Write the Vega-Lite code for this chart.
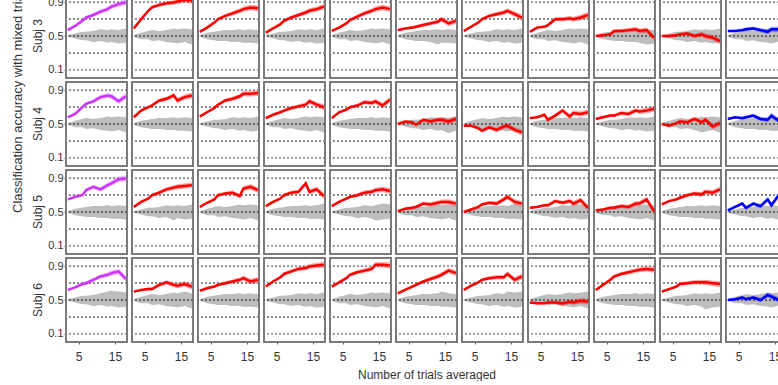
{
"$schema": "https://vega.github.io/schema/vega-lite/v6.json",
"padding": {"left": 11, "top": -16, "right": 0, "bottom": 0},
"background": "white",
"title": {"text": "Classification accuracy with mixed trials", "orient": "left", "anchor": "start", "fontSize": 13, "font": "Liberation Sans", "fontWeight": "normal", "color": "#333", "offset": 7, "dx": 168},
"data": {"values": [
{"s":"Subj 3","c":1,"x":2,"m":0.57,"e":0.012,"l":0.49,"h":0.51},{"s":"Subj 3","c":1,"x":4,"m":0.62,"e":0.015,"l":0.47,"h":0.53},{"s":"Subj 3","c":1,"x":6,"m":0.68,"e":0.018,"l":0.45,"h":0.55},{"s":"Subj 3","c":1,"x":7,"m":0.72,"e":0.02,"l":0.45,"h":0.55},{"s":"Subj 3","c":1,"x":9,"m":0.75,"e":0.022,"l":0.43,"h":0.56},{"s":"Subj 3","c":1,"x":11,"m":0.79,"e":0.025,"l":0.44,"h":0.58},{"s":"Subj 3","c":1,"x":13,"m":0.82,"e":0.027,"l":0.42,"h":0.57},{"s":"Subj 3","c":1,"x":14,"m":0.85,"e":0.03,"l":0.43,"h":0.58},{"s":"Subj 3","c":1,"x":16,"m":0.88,"e":0.032,"l":0.41,"h":0.57},{"s":"Subj 3","c":1,"x":18,"m":0.9,"e":0.035,"l":0.42,"h":0.59},
{"s":"Subj 3","c":2,"x":2,"m":0.59,"e":0.012,"l":0.49,"h":0.51},{"s":"Subj 3","c":2,"x":4,"m":0.7,"e":0.015,"l":0.46,"h":0.54},{"s":"Subj 3","c":2,"x":6,"m":0.8,"e":0.018,"l":0.46,"h":0.56},{"s":"Subj 3","c":2,"x":7,"m":0.84,"e":0.02,"l":0.44,"h":0.57},{"s":"Subj 3","c":2,"x":9,"m":0.87,"e":0.022,"l":0.45,"h":0.56},{"s":"Subj 3","c":2,"x":11,"m":0.89,"e":0.025,"l":0.43,"h":0.57},{"s":"Subj 3","c":2,"x":13,"m":0.9,"e":0.027,"l":0.42,"h":0.59},{"s":"Subj 3","c":2,"x":14,"m":0.91,"e":0.03,"l":0.41,"h":0.58},{"s":"Subj 3","c":2,"x":16,"m":0.93,"e":0.032,"l":0.43,"h":0.59},{"s":"Subj 3","c":2,"x":18,"m":0.92,"e":0.035,"l":0.4,"h":0.58},
{"s":"Subj 3","c":3,"x":2,"m":0.55,"e":0.012,"l":0.49,"h":0.51},{"s":"Subj 3","c":3,"x":4,"m":0.6,"e":0.015,"l":0.46,"h":0.54},{"s":"Subj 3","c":3,"x":6,"m":0.66,"e":0.018,"l":0.45,"h":0.55},{"s":"Subj 3","c":3,"x":7,"m":0.7,"e":0.02,"l":0.44,"h":0.56},{"s":"Subj 3","c":3,"x":9,"m":0.74,"e":0.022,"l":0.44,"h":0.57},{"s":"Subj 3","c":3,"x":11,"m":0.77,"e":0.025,"l":0.43,"h":0.57},{"s":"Subj 3","c":3,"x":13,"m":0.8,"e":0.027,"l":0.43,"h":0.58},{"s":"Subj 3","c":3,"x":14,"m":0.82,"e":0.03,"l":0.42,"h":0.57},{"s":"Subj 3","c":3,"x":16,"m":0.84,"e":0.032,"l":0.42,"h":0.58},{"s":"Subj 3","c":3,"x":18,"m":0.83,"e":0.035,"l":0.41,"h":0.57},
{"s":"Subj 3","c":4,"x":2,"m":0.54,"e":0.012,"l":0.49,"h":0.51},{"s":"Subj 3","c":4,"x":4,"m":0.59,"e":0.015,"l":0.47,"h":0.53},{"s":"Subj 3","c":4,"x":6,"m":0.64,"e":0.018,"l":0.45,"h":0.55},{"s":"Subj 3","c":4,"x":7,"m":0.68,"e":0.02,"l":0.45,"h":0.55},{"s":"Subj 3","c":4,"x":9,"m":0.72,"e":0.022,"l":0.43,"h":0.56},{"s":"Subj 3","c":4,"x":11,"m":0.75,"e":0.025,"l":0.44,"h":0.58},{"s":"Subj 3","c":4,"x":13,"m":0.78,"e":0.027,"l":0.42,"h":0.57},{"s":"Subj 3","c":4,"x":14,"m":0.8,"e":0.03,"l":0.43,"h":0.58},{"s":"Subj 3","c":4,"x":16,"m":0.82,"e":0.032,"l":0.41,"h":0.57},{"s":"Subj 3","c":4,"x":18,"m":0.85,"e":0.035,"l":0.42,"h":0.59},
{"s":"Subj 3","c":5,"x":2,"m":0.56,"e":0.012,"l":0.49,"h":0.51},{"s":"Subj 3","c":5,"x":4,"m":0.6,"e":0.015,"l":0.46,"h":0.54},{"s":"Subj 3","c":5,"x":6,"m":0.65,"e":0.018,"l":0.46,"h":0.56},{"s":"Subj 3","c":5,"x":7,"m":0.69,"e":0.02,"l":0.44,"h":0.57},{"s":"Subj 3","c":5,"x":9,"m":0.73,"e":0.022,"l":0.45,"h":0.56},{"s":"Subj 3","c":5,"x":11,"m":0.77,"e":0.025,"l":0.43,"h":0.57},{"s":"Subj 3","c":5,"x":13,"m":0.8,"e":0.027,"l":0.42,"h":0.59},{"s":"Subj 3","c":5,"x":14,"m":0.82,"e":0.03,"l":0.41,"h":0.58},{"s":"Subj 3","c":5,"x":16,"m":0.84,"e":0.032,"l":0.43,"h":0.59},{"s":"Subj 3","c":5,"x":18,"m":0.82,"e":0.035,"l":0.4,"h":0.58},
{"s":"Subj 3","c":6,"x":2,"m":0.57,"e":0.012,"l":0.49,"h":0.51},{"s":"Subj 3","c":6,"x":4,"m":0.59,"e":0.015,"l":0.46,"h":0.54},{"s":"Subj 3","c":6,"x":6,"m":0.6,"e":0.018,"l":0.45,"h":0.55},{"s":"Subj 3","c":6,"x":7,"m":0.61,"e":0.02,"l":0.44,"h":0.56},{"s":"Subj 3","c":6,"x":9,"m":0.63,"e":0.022,"l":0.44,"h":0.57},{"s":"Subj 3","c":6,"x":11,"m":0.65,"e":0.025,"l":0.43,"h":0.57},{"s":"Subj 3","c":6,"x":13,"m":0.67,"e":0.027,"l":0.4,"h":0.58},{"s":"Subj 3","c":6,"x":14,"m":0.7,"e":0.03,"l":0.42,"h":0.57},{"s":"Subj 3","c":6,"x":16,"m":0.65,"e":0.032,"l":0.42,"h":0.58},{"s":"Subj 3","c":6,"x":18,"m":0.68,"e":0.035,"l":0.41,"h":0.57},
{"s":"Subj 3","c":7,"x":2,"m":0.56,"e":0.012,"l":0.49,"h":0.51},{"s":"Subj 3","c":7,"x":4,"m":0.61,"e":0.015,"l":0.47,"h":0.53},{"s":"Subj 3","c":7,"x":6,"m":0.66,"e":0.018,"l":0.45,"h":0.55},{"s":"Subj 3","c":7,"x":7,"m":0.7,"e":0.02,"l":0.45,"h":0.55},{"s":"Subj 3","c":7,"x":9,"m":0.74,"e":0.022,"l":0.43,"h":0.56},{"s":"Subj 3","c":7,"x":11,"m":0.76,"e":0.025,"l":0.44,"h":0.58},{"s":"Subj 3","c":7,"x":13,"m":0.78,"e":0.027,"l":0.42,"h":0.57},{"s":"Subj 3","c":7,"x":14,"m":0.8,"e":0.03,"l":0.43,"h":0.58},{"s":"Subj 3","c":7,"x":16,"m":0.76,"e":0.032,"l":0.41,"h":0.57},{"s":"Subj 3","c":7,"x":18,"m":0.72,"e":0.035,"l":0.42,"h":0.59},
{"s":"Subj 3","c":8,"x":2,"m":0.55,"e":0.012,"l":0.49,"h":0.51},{"s":"Subj 3","c":8,"x":4,"m":0.6,"e":0.015,"l":0.46,"h":0.54},{"s":"Subj 3","c":8,"x":6,"m":0.61,"e":0.018,"l":0.46,"h":0.56},{"s":"Subj 3","c":8,"x":7,"m":0.63,"e":0.02,"l":0.44,"h":0.57},{"s":"Subj 3","c":8,"x":9,"m":0.7,"e":0.022,"l":0.45,"h":0.56},{"s":"Subj 3","c":8,"x":11,"m":0.7,"e":0.025,"l":0.43,"h":0.57},{"s":"Subj 3","c":8,"x":13,"m":0.71,"e":0.027,"l":0.42,"h":0.59},{"s":"Subj 3","c":8,"x":14,"m":0.7,"e":0.03,"l":0.41,"h":0.58},{"s":"Subj 3","c":8,"x":16,"m":0.72,"e":0.032,"l":0.43,"h":0.59},{"s":"Subj 3","c":8,"x":18,"m":0.75,"e":0.035,"l":0.4,"h":0.58},
{"s":"Subj 3","c":9,"x":2,"m":0.5,"e":0.012,"l":0.49,"h":0.51},{"s":"Subj 3","c":9,"x":4,"m":0.51,"e":0.015,"l":0.46,"h":0.54},{"s":"Subj 3","c":9,"x":6,"m":0.52,"e":0.018,"l":0.45,"h":0.55},{"s":"Subj 3","c":9,"x":7,"m":0.56,"e":0.02,"l":0.44,"h":0.56},{"s":"Subj 3","c":9,"x":9,"m":0.56,"e":0.022,"l":0.44,"h":0.57},{"s":"Subj 3","c":9,"x":11,"m":0.57,"e":0.025,"l":0.43,"h":0.57},{"s":"Subj 3","c":9,"x":13,"m":0.58,"e":0.027,"l":0.43,"h":0.58},{"s":"Subj 3","c":9,"x":14,"m":0.56,"e":0.03,"l":0.42,"h":0.57},{"s":"Subj 3","c":9,"x":16,"m":0.57,"e":0.032,"l":0.4,"h":0.58},{"s":"Subj 3","c":9,"x":18,"m":0.48,"e":0.035,"l":0.41,"h":0.57},
{"s":"Subj 3","c":10,"x":2,"m":0.5,"e":0.012,"l":0.49,"h":0.51},{"s":"Subj 3","c":10,"x":4,"m":0.5,"e":0.015,"l":0.47,"h":0.53},{"s":"Subj 3","c":10,"x":6,"m":0.51,"e":0.018,"l":0.45,"h":0.55},{"s":"Subj 3","c":10,"x":7,"m":0.52,"e":0.02,"l":0.45,"h":0.55},{"s":"Subj 3","c":10,"x":9,"m":0.53,"e":0.022,"l":0.43,"h":0.56},{"s":"Subj 3","c":10,"x":11,"m":0.5,"e":0.025,"l":0.44,"h":0.58},{"s":"Subj 3","c":10,"x":13,"m":0.52,"e":0.027,"l":0.42,"h":0.57},{"s":"Subj 3","c":10,"x":14,"m":0.5,"e":0.03,"l":0.43,"h":0.58},{"s":"Subj 3","c":10,"x":16,"m":0.48,"e":0.032,"l":0.41,"h":0.57},{"s":"Subj 3","c":10,"x":18,"m":0.44,"e":0.035,"l":0.42,"h":0.59},
{"s":"Subj 3","c":11,"x":2,"m":0.56,"e":0.012,"l":0.49,"h":0.51},{"s":"Subj 3","c":11,"x":4,"m":0.56,"e":0.015,"l":0.46,"h":0.54},{"s":"Subj 3","c":11,"x":6,"m":0.57,"e":0.018,"l":0.46,"h":0.56},{"s":"Subj 3","c":11,"x":7,"m":0.58,"e":0.02,"l":0.44,"h":0.57},{"s":"Subj 3","c":11,"x":9,"m":0.59,"e":0.022,"l":0.45,"h":0.56},{"s":"Subj 3","c":11,"x":11,"m":0.57,"e":0.025,"l":0.43,"h":0.57},{"s":"Subj 3","c":11,"x":13,"m":0.55,"e":0.027,"l":0.42,"h":0.59},{"s":"Subj 3","c":11,"x":14,"m":0.58,"e":0.03,"l":0.41,"h":0.58},{"s":"Subj 3","c":11,"x":16,"m":0.58,"e":0.032,"l":0.43,"h":0.59},{"s":"Subj 3","c":11,"x":18,"m":0.57,"e":0.035,"l":0.4,"h":0.58},
{"s":"Subj 4","c":1,"x":2,"m":0.58,"e":0.012,"l":0.49,"h":0.51},{"s":"Subj 4","c":1,"x":4,"m":0.62,"e":0.015,"l":0.46,"h":0.54},{"s":"Subj 4","c":1,"x":6,"m":0.7,"e":0.018,"l":0.46,"h":0.56},{"s":"Subj 4","c":1,"x":7,"m":0.74,"e":0.02,"l":0.44,"h":0.57},{"s":"Subj 4","c":1,"x":9,"m":0.77,"e":0.022,"l":0.45,"h":0.56},{"s":"Subj 4","c":1,"x":11,"m":0.82,"e":0.025,"l":0.43,"h":0.57},{"s":"Subj 4","c":1,"x":13,"m":0.84,"e":0.027,"l":0.42,"h":0.59},{"s":"Subj 4","c":1,"x":14,"m":0.83,"e":0.03,"l":0.41,"h":0.58},{"s":"Subj 4","c":1,"x":16,"m":0.77,"e":0.032,"l":0.43,"h":0.59},{"s":"Subj 4","c":1,"x":18,"m":0.83,"e":0.035,"l":0.4,"h":0.58},
{"s":"Subj 4","c":2,"x":2,"m":0.58,"e":0.012,"l":0.49,"h":0.51},{"s":"Subj 4","c":2,"x":4,"m":0.66,"e":0.015,"l":0.46,"h":0.54},{"s":"Subj 4","c":2,"x":6,"m":0.7,"e":0.018,"l":0.45,"h":0.55},{"s":"Subj 4","c":2,"x":7,"m":0.72,"e":0.02,"l":0.44,"h":0.56},{"s":"Subj 4","c":2,"x":9,"m":0.78,"e":0.022,"l":0.44,"h":0.57},{"s":"Subj 4","c":2,"x":11,"m":0.8,"e":0.025,"l":0.43,"h":0.57},{"s":"Subj 4","c":2,"x":13,"m":0.84,"e":0.027,"l":0.43,"h":0.58},{"s":"Subj 4","c":2,"x":14,"m":0.78,"e":0.03,"l":0.42,"h":0.57},{"s":"Subj 4","c":2,"x":16,"m":0.82,"e":0.032,"l":0.42,"h":0.58},{"s":"Subj 4","c":2,"x":18,"m":0.84,"e":0.035,"l":0.41,"h":0.57},
{"s":"Subj 4","c":3,"x":2,"m":0.59,"e":0.012,"l":0.49,"h":0.51},{"s":"Subj 4","c":3,"x":4,"m":0.64,"e":0.015,"l":0.47,"h":0.53},{"s":"Subj 4","c":3,"x":6,"m":0.69,"e":0.018,"l":0.45,"h":0.55},{"s":"Subj 4","c":3,"x":7,"m":0.73,"e":0.02,"l":0.45,"h":0.55},{"s":"Subj 4","c":3,"x":9,"m":0.78,"e":0.022,"l":0.43,"h":0.56},{"s":"Subj 4","c":3,"x":11,"m":0.8,"e":0.025,"l":0.44,"h":0.58},{"s":"Subj 4","c":3,"x":13,"m":0.83,"e":0.027,"l":0.42,"h":0.57},{"s":"Subj 4","c":3,"x":14,"m":0.86,"e":0.03,"l":0.43,"h":0.58},{"s":"Subj 4","c":3,"x":16,"m":0.86,"e":0.032,"l":0.41,"h":0.57},{"s":"Subj 4","c":3,"x":18,"m":0.87,"e":0.035,"l":0.42,"h":0.59},
{"s":"Subj 4","c":4,"x":2,"m":0.57,"e":0.012,"l":0.49,"h":0.51},{"s":"Subj 4","c":4,"x":4,"m":0.61,"e":0.015,"l":0.46,"h":0.54},{"s":"Subj 4","c":4,"x":6,"m":0.64,"e":0.018,"l":0.46,"h":0.56},{"s":"Subj 4","c":4,"x":7,"m":0.66,"e":0.02,"l":0.44,"h":0.57},{"s":"Subj 4","c":4,"x":9,"m":0.69,"e":0.022,"l":0.45,"h":0.56},{"s":"Subj 4","c":4,"x":11,"m":0.71,"e":0.025,"l":0.43,"h":0.57},{"s":"Subj 4","c":4,"x":13,"m":0.73,"e":0.027,"l":0.42,"h":0.59},{"s":"Subj 4","c":4,"x":14,"m":0.77,"e":0.03,"l":0.41,"h":0.58},{"s":"Subj 4","c":4,"x":16,"m":0.73,"e":0.032,"l":0.43,"h":0.59},{"s":"Subj 4","c":4,"x":18,"m":0.7,"e":0.035,"l":0.4,"h":0.58},
{"s":"Subj 4","c":5,"x":2,"m":0.57,"e":0.012,"l":0.49,"h":0.51},{"s":"Subj 4","c":5,"x":4,"m":0.64,"e":0.015,"l":0.46,"h":0.54},{"s":"Subj 4","c":5,"x":6,"m":0.67,"e":0.018,"l":0.45,"h":0.55},{"s":"Subj 4","c":5,"x":7,"m":0.7,"e":0.02,"l":0.44,"h":0.56},{"s":"Subj 4","c":5,"x":9,"m":0.72,"e":0.022,"l":0.44,"h":0.57},{"s":"Subj 4","c":5,"x":11,"m":0.76,"e":0.025,"l":0.43,"h":0.57},{"s":"Subj 4","c":5,"x":13,"m":0.75,"e":0.027,"l":0.43,"h":0.58},{"s":"Subj 4","c":5,"x":14,"m":0.77,"e":0.03,"l":0.42,"h":0.57},{"s":"Subj 4","c":5,"x":16,"m":0.72,"e":0.032,"l":0.42,"h":0.58},{"s":"Subj 4","c":5,"x":18,"m":0.79,"e":0.035,"l":0.41,"h":0.57},
{"s":"Subj 4","c":6,"x":2,"m":0.5,"e":0.012,"l":0.49,"h":0.51},{"s":"Subj 4","c":6,"x":4,"m":0.53,"e":0.015,"l":0.47,"h":0.53},{"s":"Subj 4","c":6,"x":6,"m":0.52,"e":0.018,"l":0.45,"h":0.55},{"s":"Subj 4","c":6,"x":7,"m":0.49,"e":0.02,"l":0.45,"h":0.55},{"s":"Subj 4","c":6,"x":9,"m":0.55,"e":0.022,"l":0.43,"h":0.56},{"s":"Subj 4","c":6,"x":11,"m":0.53,"e":0.025,"l":0.44,"h":0.58},{"s":"Subj 4","c":6,"x":13,"m":0.55,"e":0.027,"l":0.42,"h":0.57},{"s":"Subj 4","c":6,"x":14,"m":0.55,"e":0.03,"l":0.43,"h":0.58},{"s":"Subj 4","c":6,"x":16,"m":0.53,"e":0.032,"l":0.39,"h":0.57},{"s":"Subj 4","c":6,"x":18,"m":0.56,"e":0.035,"l":0.42,"h":0.59},
{"s":"Subj 4","c":7,"x":2,"m":0.48,"e":0.012,"l":0.49,"h":0.51},{"s":"Subj 4","c":7,"x":4,"m":0.48,"e":0.015,"l":0.46,"h":0.54},{"s":"Subj 4","c":7,"x":6,"m":0.45,"e":0.018,"l":0.46,"h":0.56},{"s":"Subj 4","c":7,"x":7,"m":0.42,"e":0.02,"l":0.44,"h":0.57},{"s":"Subj 4","c":7,"x":9,"m":0.46,"e":0.022,"l":0.45,"h":0.56},{"s":"Subj 4","c":7,"x":11,"m":0.43,"e":0.025,"l":0.43,"h":0.57},{"s":"Subj 4","c":7,"x":13,"m":0.47,"e":0.027,"l":0.42,"h":0.59},{"s":"Subj 4","c":7,"x":14,"m":0.48,"e":0.03,"l":0.41,"h":0.58},{"s":"Subj 4","c":7,"x":16,"m":0.43,"e":0.032,"l":0.43,"h":0.59},{"s":"Subj 4","c":7,"x":18,"m":0.4,"e":0.035,"l":0.4,"h":0.58},
{"s":"Subj 4","c":8,"x":2,"m":0.57,"e":0.012,"l":0.49,"h":0.51},{"s":"Subj 4","c":8,"x":4,"m":0.58,"e":0.015,"l":0.46,"h":0.54},{"s":"Subj 4","c":8,"x":6,"m":0.61,"e":0.018,"l":0.45,"h":0.55},{"s":"Subj 4","c":8,"x":7,"m":0.55,"e":0.02,"l":0.44,"h":0.56},{"s":"Subj 4","c":8,"x":9,"m":0.6,"e":0.022,"l":0.44,"h":0.57},{"s":"Subj 4","c":8,"x":11,"m":0.66,"e":0.025,"l":0.43,"h":0.57},{"s":"Subj 4","c":8,"x":13,"m":0.59,"e":0.027,"l":0.43,"h":0.58},{"s":"Subj 4","c":8,"x":14,"m":0.63,"e":0.03,"l":0.42,"h":0.57},{"s":"Subj 4","c":8,"x":16,"m":0.62,"e":0.032,"l":0.42,"h":0.58},{"s":"Subj 4","c":8,"x":18,"m":0.64,"e":0.035,"l":0.41,"h":0.57},
{"s":"Subj 4","c":9,"x":2,"m":0.56,"e":0.012,"l":0.49,"h":0.51},{"s":"Subj 4","c":9,"x":4,"m":0.58,"e":0.015,"l":0.47,"h":0.53},{"s":"Subj 4","c":9,"x":6,"m":0.6,"e":0.018,"l":0.45,"h":0.55},{"s":"Subj 4","c":9,"x":7,"m":0.6,"e":0.02,"l":0.45,"h":0.55},{"s":"Subj 4","c":9,"x":9,"m":0.63,"e":0.022,"l":0.43,"h":0.56},{"s":"Subj 4","c":9,"x":11,"m":0.62,"e":0.025,"l":0.44,"h":0.58},{"s":"Subj 4","c":9,"x":13,"m":0.66,"e":0.027,"l":0.42,"h":0.57},{"s":"Subj 4","c":9,"x":14,"m":0.65,"e":0.03,"l":0.43,"h":0.58},{"s":"Subj 4","c":9,"x":16,"m":0.66,"e":0.032,"l":0.41,"h":0.57},{"s":"Subj 4","c":9,"x":18,"m":0.68,"e":0.035,"l":0.42,"h":0.59},
{"s":"Subj 4","c":10,"x":2,"m":0.5,"e":0.012,"l":0.49,"h":0.51},{"s":"Subj 4","c":10,"x":4,"m":0.48,"e":0.015,"l":0.46,"h":0.54},{"s":"Subj 4","c":10,"x":6,"m":0.51,"e":0.018,"l":0.46,"h":0.56},{"s":"Subj 4","c":10,"x":7,"m":0.53,"e":0.02,"l":0.44,"h":0.57},{"s":"Subj 4","c":10,"x":9,"m":0.52,"e":0.022,"l":0.45,"h":0.56},{"s":"Subj 4","c":10,"x":11,"m":0.56,"e":0.025,"l":0.43,"h":0.57},{"s":"Subj 4","c":10,"x":13,"m":0.52,"e":0.027,"l":0.4,"h":0.59},{"s":"Subj 4","c":10,"x":14,"m":0.55,"e":0.03,"l":0.41,"h":0.58},{"s":"Subj 4","c":10,"x":16,"m":0.47,"e":0.032,"l":0.43,"h":0.59},{"s":"Subj 4","c":10,"x":18,"m":0.51,"e":0.035,"l":0.4,"h":0.58},
{"s":"Subj 4","c":11,"x":2,"m":0.56,"e":0.012,"l":0.49,"h":0.51},{"s":"Subj 4","c":11,"x":4,"m":0.58,"e":0.015,"l":0.46,"h":0.54},{"s":"Subj 4","c":11,"x":6,"m":0.57,"e":0.018,"l":0.45,"h":0.55},{"s":"Subj 4","c":11,"x":7,"m":0.58,"e":0.02,"l":0.44,"h":0.56},{"s":"Subj 4","c":11,"x":9,"m":0.6,"e":0.022,"l":0.44,"h":0.57},{"s":"Subj 4","c":11,"x":11,"m":0.56,"e":0.025,"l":0.43,"h":0.57},{"s":"Subj 4","c":11,"x":13,"m":0.55,"e":0.027,"l":0.43,"h":0.58},{"s":"Subj 4","c":11,"x":14,"m":0.6,"e":0.03,"l":0.42,"h":0.57},{"s":"Subj 4","c":11,"x":16,"m":0.54,"e":0.032,"l":0.42,"h":0.58},{"s":"Subj 4","c":11,"x":18,"m":0.52,"e":0.035,"l":0.41,"h":0.57},
{"s":"Subj 5","c":1,"x":2,"m":0.65,"e":0.012,"l":0.49,"h":0.51},{"s":"Subj 5","c":1,"x":4,"m":0.68,"e":0.015,"l":0.46,"h":0.54},{"s":"Subj 5","c":1,"x":6,"m":0.7,"e":0.018,"l":0.45,"h":0.55},{"s":"Subj 5","c":1,"x":7,"m":0.76,"e":0.02,"l":0.44,"h":0.56},{"s":"Subj 5","c":1,"x":9,"m":0.8,"e":0.022,"l":0.44,"h":0.57},{"s":"Subj 5","c":1,"x":11,"m":0.77,"e":0.025,"l":0.43,"h":0.57},{"s":"Subj 5","c":1,"x":13,"m":0.82,"e":0.027,"l":0.43,"h":0.58},{"s":"Subj 5","c":1,"x":14,"m":0.84,"e":0.03,"l":0.42,"h":0.57},{"s":"Subj 5","c":1,"x":16,"m":0.89,"e":0.032,"l":0.42,"h":0.58},{"s":"Subj 5","c":1,"x":18,"m":0.9,"e":0.035,"l":0.41,"h":0.57},
{"s":"Subj 5","c":2,"x":2,"m":0.56,"e":0.012,"l":0.49,"h":0.51},{"s":"Subj 5","c":2,"x":4,"m":0.62,"e":0.015,"l":0.47,"h":0.53},{"s":"Subj 5","c":2,"x":6,"m":0.66,"e":0.018,"l":0.45,"h":0.55},{"s":"Subj 5","c":2,"x":7,"m":0.7,"e":0.02,"l":0.45,"h":0.55},{"s":"Subj 5","c":2,"x":9,"m":0.73,"e":0.022,"l":0.43,"h":0.56},{"s":"Subj 5","c":2,"x":11,"m":0.77,"e":0.025,"l":0.44,"h":0.58},{"s":"Subj 5","c":2,"x":13,"m":0.79,"e":0.027,"l":0.4,"h":0.57},{"s":"Subj 5","c":2,"x":14,"m":0.8,"e":0.03,"l":0.43,"h":0.58},{"s":"Subj 5","c":2,"x":16,"m":0.81,"e":0.032,"l":0.41,"h":0.57},{"s":"Subj 5","c":2,"x":18,"m":0.82,"e":0.035,"l":0.42,"h":0.59},
{"s":"Subj 5","c":3,"x":2,"m":0.56,"e":0.012,"l":0.49,"h":0.51},{"s":"Subj 5","c":3,"x":4,"m":0.61,"e":0.015,"l":0.46,"h":0.54},{"s":"Subj 5","c":3,"x":6,"m":0.65,"e":0.018,"l":0.46,"h":0.56},{"s":"Subj 5","c":3,"x":7,"m":0.7,"e":0.02,"l":0.44,"h":0.57},{"s":"Subj 5","c":3,"x":9,"m":0.72,"e":0.022,"l":0.45,"h":0.56},{"s":"Subj 5","c":3,"x":11,"m":0.73,"e":0.025,"l":0.43,"h":0.57},{"s":"Subj 5","c":3,"x":13,"m":0.69,"e":0.027,"l":0.42,"h":0.59},{"s":"Subj 5","c":3,"x":14,"m":0.78,"e":0.03,"l":0.41,"h":0.58},{"s":"Subj 5","c":3,"x":16,"m":0.8,"e":0.032,"l":0.43,"h":0.59},{"s":"Subj 5","c":3,"x":18,"m":0.76,"e":0.035,"l":0.4,"h":0.58},
{"s":"Subj 5","c":4,"x":2,"m":0.57,"e":0.012,"l":0.49,"h":0.51},{"s":"Subj 5","c":4,"x":4,"m":0.62,"e":0.015,"l":0.46,"h":0.54},{"s":"Subj 5","c":4,"x":6,"m":0.66,"e":0.018,"l":0.45,"h":0.55},{"s":"Subj 5","c":4,"x":7,"m":0.7,"e":0.02,"l":0.44,"h":0.56},{"s":"Subj 5","c":4,"x":9,"m":0.73,"e":0.022,"l":0.44,"h":0.57},{"s":"Subj 5","c":4,"x":11,"m":0.74,"e":0.025,"l":0.43,"h":0.57},{"s":"Subj 5","c":4,"x":13,"m":0.84,"e":0.027,"l":0.43,"h":0.58},{"s":"Subj 5","c":4,"x":14,"m":0.74,"e":0.03,"l":0.42,"h":0.57},{"s":"Subj 5","c":4,"x":16,"m":0.77,"e":0.032,"l":0.42,"h":0.58},{"s":"Subj 5","c":4,"x":18,"m":0.69,"e":0.035,"l":0.41,"h":0.6},
{"s":"Subj 5","c":5,"x":2,"m":0.57,"e":0.012,"l":0.49,"h":0.51},{"s":"Subj 5","c":5,"x":4,"m":0.62,"e":0.015,"l":0.47,"h":0.53},{"s":"Subj 5","c":5,"x":6,"m":0.66,"e":0.018,"l":0.45,"h":0.55},{"s":"Subj 5","c":5,"x":7,"m":0.68,"e":0.02,"l":0.45,"h":0.55},{"s":"Subj 5","c":5,"x":9,"m":0.7,"e":0.022,"l":0.43,"h":0.56},{"s":"Subj 5","c":5,"x":11,"m":0.73,"e":0.025,"l":0.44,"h":0.58},{"s":"Subj 5","c":5,"x":13,"m":0.74,"e":0.027,"l":0.42,"h":0.57},{"s":"Subj 5","c":5,"x":14,"m":0.76,"e":0.03,"l":0.4,"h":0.58},{"s":"Subj 5","c":5,"x":16,"m":0.77,"e":0.032,"l":0.41,"h":0.6},{"s":"Subj 5","c":5,"x":18,"m":0.75,"e":0.035,"l":0.42,"h":0.59},
{"s":"Subj 5","c":6,"x":2,"m":0.51,"e":0.012,"l":0.49,"h":0.51},{"s":"Subj 5","c":6,"x":4,"m":0.54,"e":0.015,"l":0.46,"h":0.54},{"s":"Subj 5","c":6,"x":6,"m":0.55,"e":0.018,"l":0.46,"h":0.56},{"s":"Subj 5","c":6,"x":7,"m":0.56,"e":0.02,"l":0.44,"h":0.57},{"s":"Subj 5","c":6,"x":9,"m":0.6,"e":0.022,"l":0.45,"h":0.56},{"s":"Subj 5","c":6,"x":11,"m":0.59,"e":0.025,"l":0.43,"h":0.57},{"s":"Subj 5","c":6,"x":13,"m":0.61,"e":0.027,"l":0.42,"h":0.59},{"s":"Subj 5","c":6,"x":14,"m":0.62,"e":0.03,"l":0.41,"h":0.58},{"s":"Subj 5","c":6,"x":16,"m":0.62,"e":0.032,"l":0.43,"h":0.59},{"s":"Subj 5","c":6,"x":18,"m":0.6,"e":0.035,"l":0.4,"h":0.58},
{"s":"Subj 5","c":7,"x":2,"m":0.5,"e":0.012,"l":0.49,"h":0.51},{"s":"Subj 5","c":7,"x":4,"m":0.53,"e":0.015,"l":0.46,"h":0.54},{"s":"Subj 5","c":7,"x":6,"m":0.56,"e":0.018,"l":0.45,"h":0.55},{"s":"Subj 5","c":7,"x":7,"m":0.59,"e":0.02,"l":0.44,"h":0.56},{"s":"Subj 5","c":7,"x":9,"m":0.61,"e":0.022,"l":0.44,"h":0.57},{"s":"Subj 5","c":7,"x":11,"m":0.6,"e":0.025,"l":0.43,"h":0.57},{"s":"Subj 5","c":7,"x":13,"m":0.65,"e":0.027,"l":0.43,"h":0.58},{"s":"Subj 5","c":7,"x":14,"m":0.68,"e":0.03,"l":0.42,"h":0.57},{"s":"Subj 5","c":7,"x":16,"m":0.62,"e":0.032,"l":0.42,"h":0.6},{"s":"Subj 5","c":7,"x":18,"m":0.6,"e":0.035,"l":0.41,"h":0.57},
{"s":"Subj 5","c":8,"x":2,"m":0.55,"e":0.012,"l":0.49,"h":0.51},{"s":"Subj 5","c":8,"x":4,"m":0.56,"e":0.015,"l":0.47,"h":0.53},{"s":"Subj 5","c":8,"x":6,"m":0.58,"e":0.018,"l":0.45,"h":0.55},{"s":"Subj 5","c":8,"x":7,"m":0.58,"e":0.02,"l":0.45,"h":0.55},{"s":"Subj 5","c":8,"x":9,"m":0.63,"e":0.022,"l":0.43,"h":0.56},{"s":"Subj 5","c":8,"x":11,"m":0.61,"e":0.025,"l":0.44,"h":0.58},{"s":"Subj 5","c":8,"x":13,"m":0.63,"e":0.027,"l":0.42,"h":0.57},{"s":"Subj 5","c":8,"x":14,"m":0.6,"e":0.03,"l":0.43,"h":0.6},{"s":"Subj 5","c":8,"x":16,"m":0.64,"e":0.032,"l":0.41,"h":0.59},{"s":"Subj 5","c":8,"x":18,"m":0.55,"e":0.035,"l":0.42,"h":0.59},
{"s":"Subj 5","c":9,"x":2,"m":0.52,"e":0.012,"l":0.49,"h":0.51},{"s":"Subj 5","c":9,"x":4,"m":0.53,"e":0.015,"l":0.46,"h":0.54},{"s":"Subj 5","c":9,"x":6,"m":0.55,"e":0.018,"l":0.46,"h":0.56},{"s":"Subj 5","c":9,"x":7,"m":0.55,"e":0.02,"l":0.44,"h":0.57},{"s":"Subj 5","c":9,"x":9,"m":0.57,"e":0.022,"l":0.45,"h":0.56},{"s":"Subj 5","c":9,"x":11,"m":0.56,"e":0.025,"l":0.43,"h":0.57},{"s":"Subj 5","c":9,"x":13,"m":0.6,"e":0.027,"l":0.42,"h":0.59},{"s":"Subj 5","c":9,"x":14,"m":0.6,"e":0.03,"l":0.41,"h":0.58},{"s":"Subj 5","c":9,"x":16,"m":0.65,"e":0.032,"l":0.43,"h":0.59},{"s":"Subj 5","c":9,"x":18,"m":0.51,"e":0.035,"l":0.4,"h":0.58},
{"s":"Subj 5","c":10,"x":2,"m":0.59,"e":0.012,"l":0.49,"h":0.51},{"s":"Subj 5","c":10,"x":4,"m":0.63,"e":0.015,"l":0.46,"h":0.54},{"s":"Subj 5","c":10,"x":6,"m":0.65,"e":0.018,"l":0.45,"h":0.55},{"s":"Subj 5","c":10,"x":7,"m":0.67,"e":0.02,"l":0.44,"h":0.56},{"s":"Subj 5","c":10,"x":9,"m":0.7,"e":0.022,"l":0.44,"h":0.57},{"s":"Subj 5","c":10,"x":11,"m":0.72,"e":0.025,"l":0.43,"h":0.57},{"s":"Subj 5","c":10,"x":13,"m":0.71,"e":0.027,"l":0.43,"h":0.58},{"s":"Subj 5","c":10,"x":14,"m":0.74,"e":0.03,"l":0.42,"h":0.57},{"s":"Subj 5","c":10,"x":16,"m":0.73,"e":0.032,"l":0.42,"h":0.58},{"s":"Subj 5","c":10,"x":18,"m":0.77,"e":0.035,"l":0.41,"h":0.57},
{"s":"Subj 5","c":11,"x":2,"m":0.52,"e":0.012,"l":0.49,"h":0.51},{"s":"Subj 5","c":11,"x":4,"m":0.56,"e":0.015,"l":0.47,"h":0.53},{"s":"Subj 5","c":11,"x":6,"m":0.6,"e":0.018,"l":0.45,"h":0.55},{"s":"Subj 5","c":11,"x":7,"m":0.55,"e":0.02,"l":0.45,"h":0.55},{"s":"Subj 5","c":11,"x":9,"m":0.6,"e":0.022,"l":0.43,"h":0.56},{"s":"Subj 5","c":11,"x":11,"m":0.57,"e":0.025,"l":0.44,"h":0.58},{"s":"Subj 5","c":11,"x":13,"m":0.65,"e":0.027,"l":0.42,"h":0.57},{"s":"Subj 5","c":11,"x":14,"m":0.58,"e":0.03,"l":0.43,"h":0.58},{"s":"Subj 5","c":11,"x":16,"m":0.7,"e":0.032,"l":0.41,"h":0.57},{"s":"Subj 5","c":11,"x":18,"m":0.65,"e":0.035,"l":0.42,"h":0.59},
{"s":"Subj 6","c":1,"x":2,"m":0.62,"e":0.012,"l":0.49,"h":0.51},{"s":"Subj 6","c":1,"x":4,"m":0.65,"e":0.015,"l":0.47,"h":0.53},{"s":"Subj 6","c":1,"x":6,"m":0.69,"e":0.018,"l":0.45,"h":0.55},{"s":"Subj 6","c":1,"x":7,"m":0.7,"e":0.02,"l":0.45,"h":0.55},{"s":"Subj 6","c":1,"x":9,"m":0.74,"e":0.022,"l":0.43,"h":0.56},{"s":"Subj 6","c":1,"x":11,"m":0.78,"e":0.025,"l":0.44,"h":0.58},{"s":"Subj 6","c":1,"x":13,"m":0.8,"e":0.027,"l":0.42,"h":0.6},{"s":"Subj 6","c":1,"x":14,"m":0.82,"e":0.03,"l":0.43,"h":0.61},{"s":"Subj 6","c":1,"x":16,"m":0.84,"e":0.032,"l":0.41,"h":0.6},{"s":"Subj 6","c":1,"x":18,"m":0.75,"e":0.035,"l":0.42,"h":0.59},
{"s":"Subj 6","c":2,"x":2,"m":0.6,"e":0.012,"l":0.49,"h":0.51},{"s":"Subj 6","c":2,"x":4,"m":0.62,"e":0.015,"l":0.46,"h":0.54},{"s":"Subj 6","c":2,"x":6,"m":0.63,"e":0.018,"l":0.46,"h":0.56},{"s":"Subj 6","c":2,"x":7,"m":0.63,"e":0.02,"l":0.44,"h":0.57},{"s":"Subj 6","c":2,"x":9,"m":0.68,"e":0.022,"l":0.45,"h":0.56},{"s":"Subj 6","c":2,"x":11,"m":0.71,"e":0.025,"l":0.43,"h":0.57},{"s":"Subj 6","c":2,"x":13,"m":0.68,"e":0.027,"l":0.42,"h":0.59},{"s":"Subj 6","c":2,"x":14,"m":0.67,"e":0.03,"l":0.41,"h":0.58},{"s":"Subj 6","c":2,"x":16,"m":0.69,"e":0.032,"l":0.43,"h":0.6},{"s":"Subj 6","c":2,"x":18,"m":0.66,"e":0.035,"l":0.4,"h":0.58},
{"s":"Subj 6","c":3,"x":2,"m":0.61,"e":0.012,"l":0.49,"h":0.51},{"s":"Subj 6","c":3,"x":4,"m":0.64,"e":0.015,"l":0.46,"h":0.54},{"s":"Subj 6","c":3,"x":6,"m":0.66,"e":0.018,"l":0.45,"h":0.55},{"s":"Subj 6","c":3,"x":7,"m":0.68,"e":0.02,"l":0.44,"h":0.56},{"s":"Subj 6","c":3,"x":9,"m":0.7,"e":0.022,"l":0.44,"h":0.57},{"s":"Subj 6","c":3,"x":11,"m":0.72,"e":0.025,"l":0.43,"h":0.57},{"s":"Subj 6","c":3,"x":13,"m":0.74,"e":0.027,"l":0.43,"h":0.58},{"s":"Subj 6","c":3,"x":14,"m":0.76,"e":0.03,"l":0.42,"h":0.57},{"s":"Subj 6","c":3,"x":16,"m":0.72,"e":0.032,"l":0.42,"h":0.58},{"s":"Subj 6","c":3,"x":18,"m":0.74,"e":0.035,"l":0.41,"h":0.57},
{"s":"Subj 6","c":4,"x":2,"m":0.66,"e":0.012,"l":0.49,"h":0.51},{"s":"Subj 6","c":4,"x":4,"m":0.72,"e":0.015,"l":0.47,"h":0.53},{"s":"Subj 6","c":4,"x":6,"m":0.77,"e":0.018,"l":0.45,"h":0.55},{"s":"Subj 6","c":4,"x":7,"m":0.81,"e":0.02,"l":0.45,"h":0.55},{"s":"Subj 6","c":4,"x":9,"m":0.84,"e":0.022,"l":0.43,"h":0.56},{"s":"Subj 6","c":4,"x":11,"m":0.87,"e":0.025,"l":0.44,"h":0.58},{"s":"Subj 6","c":4,"x":13,"m":0.88,"e":0.027,"l":0.42,"h":0.57},{"s":"Subj 6","c":4,"x":14,"m":0.9,"e":0.03,"l":0.43,"h":0.58},{"s":"Subj 6","c":4,"x":16,"m":0.91,"e":0.032,"l":0.41,"h":0.57},{"s":"Subj 6","c":4,"x":18,"m":0.92,"e":0.035,"l":0.42,"h":0.59},
{"s":"Subj 6","c":5,"x":2,"m":0.66,"e":0.012,"l":0.49,"h":0.51},{"s":"Subj 6","c":5,"x":4,"m":0.71,"e":0.015,"l":0.46,"h":0.54},{"s":"Subj 6","c":5,"x":6,"m":0.76,"e":0.018,"l":0.46,"h":0.56},{"s":"Subj 6","c":5,"x":7,"m":0.8,"e":0.02,"l":0.44,"h":0.57},{"s":"Subj 6","c":5,"x":9,"m":0.83,"e":0.022,"l":0.45,"h":0.56},{"s":"Subj 6","c":5,"x":11,"m":0.85,"e":0.025,"l":0.43,"h":0.57},{"s":"Subj 6","c":5,"x":13,"m":0.87,"e":0.027,"l":0.42,"h":0.59},{"s":"Subj 6","c":5,"x":14,"m":0.92,"e":0.03,"l":0.41,"h":0.58},{"s":"Subj 6","c":5,"x":16,"m":0.92,"e":0.032,"l":0.43,"h":0.59},{"s":"Subj 6","c":5,"x":18,"m":0.91,"e":0.035,"l":0.4,"h":0.58},
{"s":"Subj 6","c":6,"x":2,"m":0.58,"e":0.012,"l":0.49,"h":0.51},{"s":"Subj 6","c":6,"x":4,"m":0.62,"e":0.015,"l":0.46,"h":0.54},{"s":"Subj 6","c":6,"x":6,"m":0.66,"e":0.018,"l":0.45,"h":0.55},{"s":"Subj 6","c":6,"x":7,"m":0.68,"e":0.02,"l":0.44,"h":0.56},{"s":"Subj 6","c":6,"x":9,"m":0.72,"e":0.022,"l":0.44,"h":0.57},{"s":"Subj 6","c":6,"x":11,"m":0.75,"e":0.025,"l":0.43,"h":0.57},{"s":"Subj 6","c":6,"x":13,"m":0.78,"e":0.027,"l":0.43,"h":0.58},{"s":"Subj 6","c":6,"x":14,"m":0.8,"e":0.03,"l":0.42,"h":0.6},{"s":"Subj 6","c":6,"x":16,"m":0.85,"e":0.032,"l":0.42,"h":0.58},{"s":"Subj 6","c":6,"x":18,"m":0.82,"e":0.035,"l":0.41,"h":0.57},
{"s":"Subj 6","c":7,"x":2,"m":0.62,"e":0.012,"l":0.49,"h":0.51},{"s":"Subj 6","c":7,"x":4,"m":0.67,"e":0.015,"l":0.47,"h":0.53},{"s":"Subj 6","c":7,"x":6,"m":0.71,"e":0.018,"l":0.45,"h":0.55},{"s":"Subj 6","c":7,"x":7,"m":0.74,"e":0.02,"l":0.45,"h":0.55},{"s":"Subj 6","c":7,"x":9,"m":0.76,"e":0.022,"l":0.43,"h":0.56},{"s":"Subj 6","c":7,"x":11,"m":0.77,"e":0.025,"l":0.44,"h":0.58},{"s":"Subj 6","c":7,"x":13,"m":0.77,"e":0.027,"l":0.42,"h":0.57},{"s":"Subj 6","c":7,"x":14,"m":0.81,"e":0.03,"l":0.43,"h":0.6},{"s":"Subj 6","c":7,"x":16,"m":0.74,"e":0.032,"l":0.41,"h":0.59},{"s":"Subj 6","c":7,"x":18,"m":0.78,"e":0.035,"l":0.42,"h":0.6},
{"s":"Subj 6","c":8,"x":2,"m":0.47,"e":0.012,"l":0.49,"h":0.51},{"s":"Subj 6","c":8,"x":4,"m":0.46,"e":0.015,"l":0.46,"h":0.54},{"s":"Subj 6","c":8,"x":6,"m":0.46,"e":0.018,"l":0.46,"h":0.56},{"s":"Subj 6","c":8,"x":7,"m":0.47,"e":0.02,"l":0.44,"h":0.57},{"s":"Subj 6","c":8,"x":9,"m":0.47,"e":0.022,"l":0.45,"h":0.56},{"s":"Subj 6","c":8,"x":11,"m":0.46,"e":0.025,"l":0.43,"h":0.57},{"s":"Subj 6","c":8,"x":13,"m":0.48,"e":0.027,"l":0.42,"h":0.59},{"s":"Subj 6","c":8,"x":14,"m":0.47,"e":0.03,"l":0.41,"h":0.58},{"s":"Subj 6","c":8,"x":16,"m":0.49,"e":0.032,"l":0.43,"h":0.59},{"s":"Subj 6","c":8,"x":18,"m":0.48,"e":0.035,"l":0.4,"h":0.6},
{"s":"Subj 6","c":9,"x":2,"m":0.62,"e":0.012,"l":0.49,"h":0.51},{"s":"Subj 6","c":9,"x":4,"m":0.68,"e":0.015,"l":0.46,"h":0.54},{"s":"Subj 6","c":9,"x":6,"m":0.74,"e":0.018,"l":0.45,"h":0.55},{"s":"Subj 6","c":9,"x":7,"m":0.78,"e":0.02,"l":0.44,"h":0.56},{"s":"Subj 6","c":9,"x":9,"m":0.81,"e":0.022,"l":0.44,"h":0.57},{"s":"Subj 6","c":9,"x":11,"m":0.83,"e":0.025,"l":0.43,"h":0.57},{"s":"Subj 6","c":9,"x":13,"m":0.85,"e":0.027,"l":0.43,"h":0.58},{"s":"Subj 6","c":9,"x":14,"m":0.86,"e":0.03,"l":0.42,"h":0.57},{"s":"Subj 6","c":9,"x":16,"m":0.87,"e":0.032,"l":0.42,"h":0.58},{"s":"Subj 6","c":9,"x":18,"m":0.86,"e":0.035,"l":0.41,"h":0.57},
{"s":"Subj 6","c":10,"x":2,"m":0.6,"e":0.012,"l":0.49,"h":0.51},{"s":"Subj 6","c":10,"x":4,"m":0.63,"e":0.015,"l":0.47,"h":0.53},{"s":"Subj 6","c":10,"x":6,"m":0.66,"e":0.018,"l":0.45,"h":0.55},{"s":"Subj 6","c":10,"x":7,"m":0.69,"e":0.02,"l":0.45,"h":0.55},{"s":"Subj 6","c":10,"x":9,"m":0.7,"e":0.022,"l":0.43,"h":0.56},{"s":"Subj 6","c":10,"x":11,"m":0.71,"e":0.025,"l":0.44,"h":0.58},{"s":"Subj 6","c":10,"x":13,"m":0.71,"e":0.027,"l":0.42,"h":0.57},{"s":"Subj 6","c":10,"x":14,"m":0.71,"e":0.03,"l":0.39,"h":0.58},{"s":"Subj 6","c":10,"x":16,"m":0.7,"e":0.032,"l":0.41,"h":0.57},{"s":"Subj 6","c":10,"x":18,"m":0.69,"e":0.035,"l":0.42,"h":0.59},
{"s":"Subj 6","c":11,"x":2,"m":0.5,"e":0.012,"l":0.49,"h":0.51},{"s":"Subj 6","c":11,"x":4,"m":0.51,"e":0.015,"l":0.46,"h":0.54},{"s":"Subj 6","c":11,"x":6,"m":0.53,"e":0.018,"l":0.46,"h":0.56},{"s":"Subj 6","c":11,"x":7,"m":0.51,"e":0.02,"l":0.44,"h":0.57},{"s":"Subj 6","c":11,"x":9,"m":0.53,"e":0.022,"l":0.45,"h":0.56},{"s":"Subj 6","c":11,"x":11,"m":0.5,"e":0.025,"l":0.43,"h":0.57},{"s":"Subj 6","c":11,"x":13,"m":0.56,"e":0.027,"l":0.42,"h":0.59},{"s":"Subj 6","c":11,"x":14,"m":0.54,"e":0.03,"l":0.41,"h":0.58},{"s":"Subj 6","c":11,"x":16,"m":0.5,"e":0.032,"l":0.43,"h":0.59},{"s":"Subj 6","c":11,"x":18,"m":0.45,"e":0.035,"l":0.4,"h":0.58}
]},
"facet": {
  "row": {"field": "s", "type": "nominal", "header": {"title": null, "labelOrient": "left", "labelAngle": -90, "labelFontSize": 12, "labelFont": "Liberation Sans", "labelColor": "#333", "labelPadding": -2}},
  "column": {"field": "c", "type": "ordinal", "header": {"labels": false, "title": "Number of trials averaged", "titleOrient": "bottom", "titleFontSize": 12, "titleFontWeight": "normal", "titleFont": "Liberation Sans", "titleColor": "#333", "titlePadding": -2}}
},
"bounds": "flush",
"spacing": {"row": 4, "column": 5},
"spec": {
  "width": 61,
  "height": 84,
  "layer": [
    {"mark": {"type": "rule", "strokeDash": [2, 2], "color": "#888", "strokeWidth": 1}, "encoding": {"y": {"datum": 0.9}}},
    {"mark": {"type": "rule", "strokeDash": [2, 2], "color": "#888", "strokeWidth": 1}, "encoding": {"y": {"datum": 0.7}}},
    {"mark": {"type": "rule", "strokeDash": [2, 2], "color": "#888", "strokeWidth": 1}, "encoding": {"y": {"datum": 0.3}}},
    {"mark": {"type": "rule", "strokeDash": [2, 2], "color": "#888", "strokeWidth": 1}, "encoding": {"y": {"datum": 0.1}}},
    {"mark": {"type": "area", "color": "#bdbdbd"},
     "encoding": {
       "x": {"field": "x", "type": "quantitative", "scale": {"domain": [1.5, 18.3], "nice": false, "zero": false}, "axis": {"values": [5, 10, 15], "title": null, "grid": false, "domain": false, "tickSize": 2, "labelFontSize": 12, "labelPadding": 7, "labelColor": "#333", "tickColor": "#555", "labelFont": "Liberation Sans"}},
       "y": {"field": "l", "type": "quantitative", "scale": {"domain": [0, 1], "nice": false, "zero": false}, "axis": {"values": [0.1, 0.3, 0.5, 0.7, 0.9], "format": ".1f", "labelExpr": "datum.value == 0.3 || datum.value == 0.7 ? '' : datum.label", "title": null, "grid": false, "domain": false, "tickSize": 2, "labelFontSize": 11, "labelPadding": 1, "labelColor": "#333", "tickColor": "#555", "labelFont": "Liberation Sans"}},
       "y2": {"field": "h"}
     }},
    {"mark": {"type": "rule", "strokeDash": [2, 2], "color": "#666", "strokeWidth": 1}, "encoding": {"y": {"datum": 0.5}}},
    {"mark": {"type": "errorband", "opacity": 0.35},
     "encoding": {
       "x": {"field": "x", "type": "quantitative"},
       "y": {"field": "m", "type": "quantitative"},
       "yError": {"field": "e"},
       "color": {"field": "c", "type": "ordinal", "scale": {"domain": [1,2,3,4,5,6,7,8,9,10,11], "range": ["#cc33ff","#ff0000","#ff0000","#ff0000","#ff0000","#ff0000","#ff0000","#ff0000","#ff0000","#ff0000","#0000ff"]}, "legend": null}
     }},
    {"mark": {"type": "line", "strokeWidth": 2.5},
     "encoding": {
       "x": {"field": "x", "type": "quantitative"},
       "y": {"field": "m", "type": "quantitative"},
       "color": {"field": "c", "type": "ordinal", "scale": {"domain": [1,2,3,4,5,6,7,8,9,10,11], "range": ["#cc33ff","#ff0000","#ff0000","#ff0000","#ff0000","#ff0000","#ff0000","#ff0000","#ff0000","#ff0000","#0000ff"]}, "legend": null}
     }}
  ]
},
"config": {"view": {"stroke": "#7a7a7a", "strokeWidth": 2}}
}
